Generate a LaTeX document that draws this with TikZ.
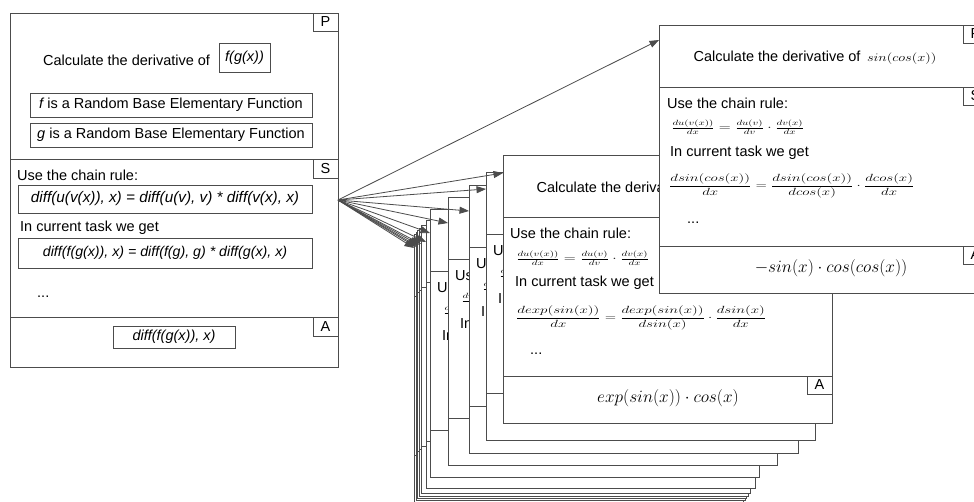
\documentclass[tikz,border=0pt]{standalone}
\usepackage{amsmath}
\usepackage{graphicx}
\usepackage{fontspec}
\setmainfont{Liberation Sans}
\usetikzlibrary{calc,arrows.meta}
\definecolor{linec}{gray}{0.3}
\newcommand\cardfont{\fontsize{14.5}{17}\selectfont}
\newcommand\ansfont{\fontsize{17.5}{20}\selectfont}
\newcommand\squash[1]{\scalebox{1.04}[0.72]{#1}}
\newcommand\chainfrac{\scalebox{1.09}[0.75]{$\frac{du(v(x))}{dx}=\frac{du(v)}{dv}\cdot\frac{dv(x)}{dx}$}}
\tikzset{
 card/.style={draw=linec, fill=white, line width=0.8pt, minimum width=329pt, minimum height=268pt, anchor=north west, inner sep=0pt, outer sep=0pt},
 lbl/.style={draw=linec, fill=white, line width=0.8pt, minimum width=25pt, minimum height=18pt, anchor=north east, inner sep=0pt, outer sep=0pt, font=\cardfont},
 tbox/.style={draw=linec, line width=0.8pt, inner sep=0pt, font=\cardfont},
 txt/.style={anchor=west, inner sep=0pt, font=\cardfont},
 ctxt/.style={inner sep=0pt, font=\cardfont},
 ans/.style={inner sep=0pt, font=\ansfont},
 divl/.style={draw=linec, line width=0.8pt},
 arr/.style={draw=linec, line width=0.8pt, -{Triangle[length=9.5pt,width=7pt]}}
}
% card outline with its two section dividers
\newcommand\cardframe[3]{%
 \node[card] (#1) at (#2,#3) {};
 \draw[divl] ($(#1.north west)+(0,62)$) -- ($(#1.north east)+(0,62)$);
 \draw[divl] ($(#1.north west)+(0,221)$) -- ($(#1.north east)+(0,221)$);
}
% section labels P, S, A
\newcommand\cardlabels[1]{%
 \node[lbl] (#1-P) at (#1.north east) {P};
 \node[lbl] (#1-S) at ($(#1.north east)+(0,62)$) {S};
 \node[lbl] (#1-A) at ($(#1.north east)+(0,221)$) {A};
}
% stacked card (mostly covered by the cards in front of it)
\newcommand\stackcard[3]{%
 \cardframe{#1}{#2}{#3}
 \cardlabels{#1}
 \node[txt] (#1-h) at ($(#1.north west)+(34,34)$) {Calculate the derivative of};
 \node[txt] (#1-u) at ($(#1.north west)+(7,78)$) {Use the chain rule:};
 \node[txt] (#1-f) at ($(#1.north west)+(13,103)$) {\chainfrac};
 \node[txt] (#1-i) at ($(#1.north west)+(12,128)$) {In current task we get};
 \node[txt] (#1-d) at ($(#1.north west)+(27,199)$) {...};
}
\begin{document}
\begin{tikzpicture}[x=1pt,y=-1pt]
\clip (0,0) rectangle (974,501);
\fill[white] (0,0) rectangle (974,501);

% stacked cards, back to front
\stackcard{c11}{414}{234}
\stackcard{c10}{416}{232}
\stackcard{c9}{417}{230}
\stackcard{c8}{419}{228}
\stackcard{c7}{421}{225}
\stackcard{c6}{426}{220}
\stackcard{c5}{430}{209}
\stackcard{c4}{448}{197}
\stackcard{c3}{469}{185}
\stackcard{c2}{486}{172}

% exp card
\cardframe{c1}{503}{155}
\cardlabels{c1}
\node[ctxt] (c1-h) at (659,189) {Calculate the derivative of\hspace{0.45em}\scalebox{1}[0.8]{$exp(sin(x))$}};
\node[txt] (c1-u) at (510,233) {Use the chain rule:};
\node[txt] (c1-f) at (516,258) {\chainfrac};
\node[txt] (c1-i) at (515,283) {In current task we get};
\node[txt] (c1-g) at (516,318) {\squash{$\dfrac{dexp(sin(x))}{dx}=\dfrac{dexp(sin(x))}{dsin(x)}\cdot\dfrac{dsin(x)}{dx}$}};
\node[txt] (c1-d) at (530,354) {...};
\node[ans] (c1-ans) at (668,398) {$exp(sin(x))\cdot cos(x)$};

% front card
\cardframe{R}{659}{25}
\cardlabels{R}
\node[ctxt] (R-h) at (815,58) {Calculate the derivative of\hspace{0.45em}\scalebox{1}[0.8]{$sin(cos(x))$}};
\node[txt] (R-u) at (667,103) {Use the chain rule:};
\node[txt] (R-f) at (671,127) {\chainfrac};
\node[txt] (R-i) at (670,153) {In current task we get};
\node[txt] (R-g) at (669,186) {\squash{$\dfrac{dsin(cos(x))}{dx}=\dfrac{dsin(cos(x))}{dcos(x)}\cdot\dfrac{dcos(x)}{dx}$}};
\node[txt] (R-d) at (687,223) {...};
\node[ans, font=\fontsize{19}{22}\selectfont] (R-ans) at (831,268) {$-sin(x)\cdot cos(cos(x))$};

% left card
\node[card, minimum width=328pt, minimum height=354pt] (L) at (10,13) {};
\draw[divl] ($(L.north west)+(0,146)$) -- ($(L.north east)+(0,146)$);
\draw[divl] ($(L.north west)+(0,304)$) -- ($(L.north east)+(0,304)$);
\node[lbl] (L-P) at (L.north east) {P};
\node[lbl, minimum height=19pt] (L-S) at ($(L.north east)+(0,146)$) {S};
\node[lbl, minimum height=19pt] (L-A) at ($(L.north east)+(0,304)$) {A};
\node[txt] (Lcalc) at (43,60) {Calculate the derivative of};
\node[tbox, minimum width=51pt, minimum height=29pt] (Lfg) at (244.5,57.5) {\itshape f(g(x))};
\node[tbox, minimum width=282pt, minimum height=24pt] (Lf) at (171,105) {{\itshape f} is a Random Base Elementary Function};
\node[tbox, minimum width=282pt, minimum height=24pt] (Lg) at (171,135) {{\itshape g} is a Random Base Elementary Function};
\node[txt] (Luse) at (17,175) {Use the chain rule:};
\node[tbox, minimum width=294pt, minimum height=28pt, font=\fontsize{15.3}{18}\selectfont] (Lr1) at (165,199) {\itshape diff(u(v(x)), x) = diff(u(v), v) * diff(v(x), x)};
\node[txt] (Lin) at (20,228) {In current task we get};
\node[tbox, minimum width=294pt, minimum height=30pt, font=\fontsize{14.2}{17}\selectfont] (Lr2) at (165,253) {\itshape diff(f(g(x)), x) = diff(f(g), g) * diff(g(x), x)};
\node[txt] (Ldots) at (37,297) {...};
\node[tbox, minimum width=122pt, minimum height=22pt] (Lans) at (174,337) {\itshape diff(f(g(x)), x)};

% connectors
\coordinate (src) at ($(L.north east)+(0,187)$);
\draw[arr] (src) -- ($(R.north west)+(0,15)$);
\draw[arr] (src) -- ($(c1.north west)+(0,18)$);
\draw[arr] (src) -- ($(c2.north west)+(0,17)$);
\draw[arr] (src) -- ($(c3.north west)+(0,26)$);
\draw[arr] (src) -- ($(c4.north west)+(0,26)$);
\draw[arr] (src) -- ($(c5.north west)+(0,24)$);
\draw[arr] (src) -- ($(c6.north west)+(0,22)$);
\draw[arr] (src) -- ($(c7.north west)+(0,19)$);
\draw[arr] (src) -- ($(c8.north west)+(0,17)$);
\draw[arr] (src) -- ($(c9.north west)+(0,16)$);
\draw[arr] (src) -- ($(c10.north west)+(0,15)$);
\draw[arr] (src) -- ($(c11.north west)+(0,14)$);
\end{tikzpicture}
\end{document}
